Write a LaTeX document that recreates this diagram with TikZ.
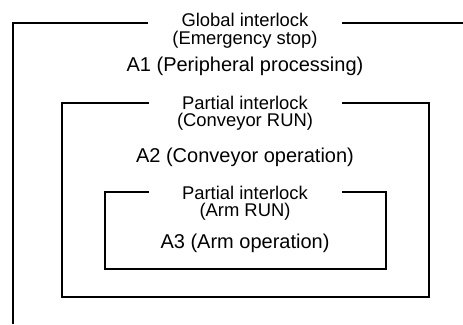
\documentclass[tikz,border=0pt]{standalone}
\usepackage{fontspec}
\setmainfont{Liberation Sans}

\begin{document}
\begin{tikzpicture}[x=1pt, y=-1pt,
    frame/.style={line width=1.6pt},
    guard/.style={font=\fontsize{18.4}{20}\selectfont, inner sep=0pt, anchor=base},
    task/.style={font=\fontsize{20}{22}\selectfont, inner sep=0pt, anchor=base}]
        \useasboundingbox (0,0) rectangle (463,324);
        % outer frame, runs off the page
        \draw[frame] (148,23) -- (13,23) -- (13,324);
        \draw[frame] (342,23) -- (463,23);
        % closed frames
        \foreach \l/\t/\r/\b in {62/103/429/297, 105/192/386/269} {
            \draw[frame] (149,\t) -- (\l,\t) -- (\l,\b) -- (\r,\b) -- (\r,\t) -- (342,\t);
        }
        % labels
        \node[guard] (glob1) at (245,26)  {Global interlock};
        \node[guard] (glob2) at (245,44)  {(Emergency stop)};
        \node[task]  (act1)  at (245,71)  {A1 (Peripheral processing)};
        \node[guard] (conv1) at (245,109) {Partial interlock};
        \node[guard] (conv2) at (245,126) {(Conveyor RUN)};
        \node[task]  (act2)  at (245,162) {A2 (Conveyor operation)};
        \node[guard] (arm1)  at (245,199) {Partial interlock};
        \node[guard] (arm2)  at (245,216) {(Arm RUN)};
        \node[task]  (act3)  at (245,248) {A3 (Arm operation)};
    \end{tikzpicture}
\end{document}
